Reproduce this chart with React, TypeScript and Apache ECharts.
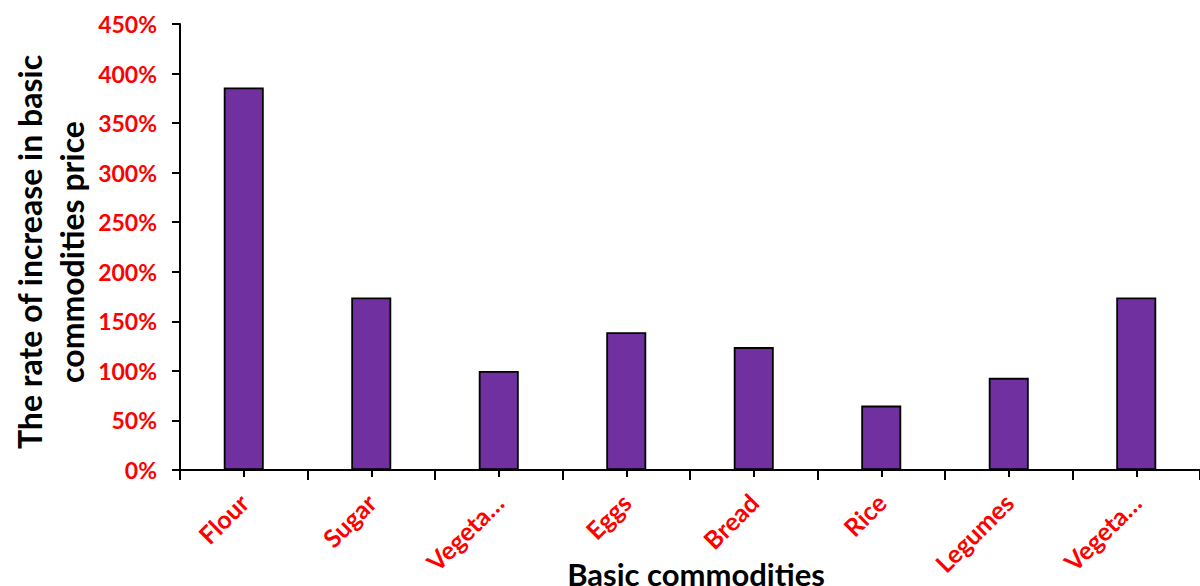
import React, { useEffect, useRef } from "react";
import * as echarts from "echarts";

const categories = ["Flour", "Sugar", "Vegeta…", "Eggs", "Bread", "Rice", "Legumes", "Vegeta…"];
const increaseRates = [386, 174, 100, 139, 124, 65, 93, 174];
const yTicks = { min: 0, max: 450, interval: 50 };
const yAxisTitle = "The rate of increase in basic\ncommodities price";
const xAxisTitle = "Basic commodities";

const FONT = "Lato, 'Open Sans', sans-serif";

export default function App() {
  const ref = useRef<HTMLDivElement>(null);
  useEffect(() => {
    if (!ref.current) return;
    const chart = echarts.init(ref.current, null, { renderer: "svg" });
    chart.setOption({
      animation: false,
      backgroundColor: "#ffffff",
      grid: { left: 180, top: 24, width: 1024, height: 446, containLabel: false },
      xAxis: [
        {
          type: "category",
          data: categories,
          position: "bottom",
          axisLine: { show: true, lineStyle: { color: "#000", width: 2 } },
          axisTick: { show: true, alignWithLabel: false, length: 10, lineStyle: { color: "#000", width: 2 } },
          axisLabel: {
            rotate: 45,
            margin: 28,
            color: "#ff0000",
            fontFamily: FONT,
            fontWeight: "bold",
            fontSize: 25,
            interval: 0,
          },
        },
        {
          type: "category",
          data: categories,
          position: "bottom",
          axisLine: { show: false },
          axisTick: { show: true, alignWithLabel: true, length: 7, lineStyle: { color: "#000", width: 2 } },
          axisLabel: { show: false },
          splitLine: { show: false },
        },
      ],
      yAxis: {
        type: "value",
        min: yTicks.min,
        max: yTicks.max,
        interval: yTicks.interval,
        splitLine: { show: false },
        axisLine: { show: true, lineStyle: { color: "#000", width: 2 } },
        axisTick: { show: true, length: 8, lineStyle: { color: "#000", width: 2 } },
        axisLabel: {
          formatter: "{value}%",
          margin: 23,
          color: "#ff0000",
          fontFamily: FONT,
          fontWeight: "bold",
          fontSize: 23,
        },
      },
      series: [
        {
          type: "bar",
          data: increaseRates,
          xAxisIndex: 0,
          barWidth: 40,
          itemStyle: { color: "#7030A0", borderColor: "#000", borderWidth: 1.8 },
        },
      ],
      graphic: [
        {
          type: "text",
          x: 50,
          y: 252,
          rotation: Math.PI / 2,
          style: {
            text: yAxisTitle,
            fill: "#000",
            font: `bold 32px ${FONT}`,
            textAlign: "center",
            textVerticalAlign: "middle",
            lineHeight: 42,
          },
        },
        {
          type: "text",
          x: 696,
          y: 574,
          style: {
            text: xAxisTitle,
            fill: "#000",
            font: `bold 31px ${FONT}`,
            textAlign: "center",
            textVerticalAlign: "middle",
          },
        },
      ],
    });
    return () => chart.dispose();
  }, []);
  return (
    <div
      ref={ref}
      style={{ position: "fixed", left: 0, top: 0, width: 1200, height: 586, background: "#fff" }}
    />
  );
}
